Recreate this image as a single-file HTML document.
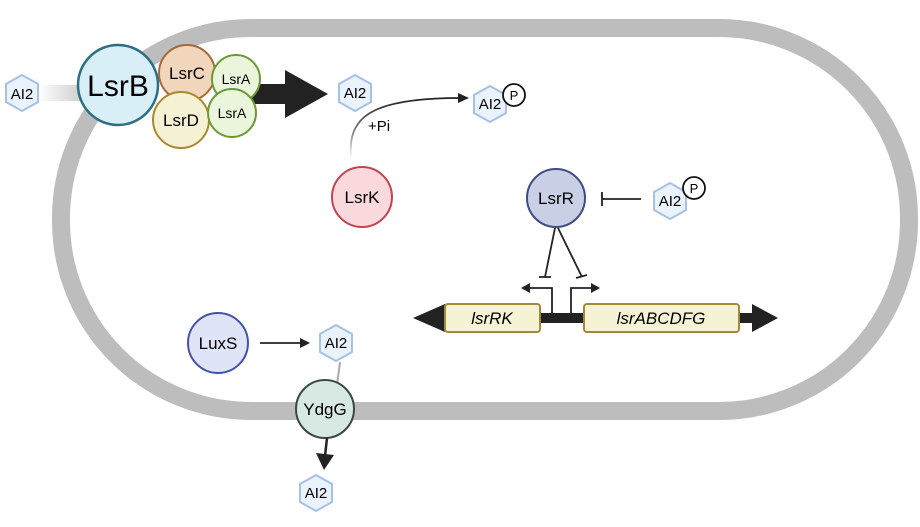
<!DOCTYPE html>
<html><head><meta charset="utf-8"><style>
html,body{margin:0;padding:0;background:#fff;}
svg{display:block;font-family:"Liberation Sans",sans-serif;}
</style></head><body>
<svg width="920" height="527" viewBox="0 0 920 527" xmlns="http://www.w3.org/2000/svg">
<defs>
<linearGradient id="g1" x1="0" x2="1"><stop offset="0" stop-color="#fff"/><stop offset="1" stop-color="#c8c8c8"/></linearGradient>
<linearGradient id="g2" x1="0" y1="1" x2="0" y2="0"><stop offset="0" stop-color="#fff"/><stop offset="0.4" stop-color="#888"/><stop offset="1" stop-color="#222"/></linearGradient>
<symbol id="hex" viewBox="-18 -19 36 38" overflow="visible"><polygon points="0,-18 16,-9 16,9 0,18 -16,9 -16,-9" fill="#eaf2fc" stroke="#a6c0e6" stroke-width="2"/></symbol>
</defs>
<rect x="61" y="28" width="848" height="383" rx="190" ry="190" fill="none" stroke="#bdbdbd" stroke-width="18"/>
<rect x="38" y="85" width="50" height="16" fill="url(#g1)"/>
<use href="#hex" x="4" y="74" width="36" height="38"/>
<text x="22" y="99" font-size="15" text-anchor="middle">AI2</text>
<rect x="235" y="84" width="55" height="20" fill="#222"/>
<polygon points="285,70 328,94 285,118" fill="#222"/>
<circle cx="118" cy="85" r="40" fill="#d9eff7" stroke="#2c6e82" stroke-width="2.5"/>
<text x="118" y="96" font-size="30" text-anchor="middle">LsrB</text>
<circle cx="187" cy="73" r="28" fill="#f2d6bc" stroke="#a6673a" stroke-width="2"/>
<text x="187" y="79" font-size="17" text-anchor="middle">LsrC</text>
<circle cx="181" cy="120" r="28" fill="#f5f1d4" stroke="#a8892c" stroke-width="2"/>
<text x="181" y="126" font-size="17" text-anchor="middle">LsrD</text>
<circle cx="236" cy="79" r="24" fill="#eaf5dc" stroke="#6a9a38" stroke-width="2"/>
<text x="236" y="84" font-size="14" text-anchor="middle">LsrA</text>
<circle cx="232" cy="113" r="24" fill="#eaf5dc" stroke="#6a9a38" stroke-width="2"/>
<text x="232" y="118" font-size="14" text-anchor="middle">LsrA</text>
<use href="#hex" x="337" y="74" width="36" height="38"/>
<text x="355" y="98" font-size="15" text-anchor="middle">AI2</text>
<path d="M351,158 C348,120 365,98 460,98" fill="none" stroke="url(#g2)" stroke-width="1.8"/>
<polygon points="458,93 469,98 458,103" fill="#222"/>
<text x="368" y="131" font-size="15">+Pi</text>
<use href="#hex" x="472" y="85" width="36" height="38"/>
<text x="490" y="109" font-size="15" text-anchor="middle">AI2</text>
<circle cx="514" cy="95" r="11" fill="#fff" stroke="#111" stroke-width="1.8"/>
<text x="514" y="100" font-size="13" text-anchor="middle">P</text>
<circle cx="362" cy="197" r="30" fill="#f9d9dc" stroke="#c24450" stroke-width="2"/>
<text x="362" y="203" font-size="17" text-anchor="middle">LsrK</text>
<circle cx="556" cy="198" r="29" fill="#c9d0e6" stroke="#3f4d84" stroke-width="2"/>
<text x="556" y="204" font-size="17" text-anchor="middle">LsrR</text>
<line x1="602" y1="199" x2="641" y2="199" stroke="#222" stroke-width="1.8"/>
<line x1="602" y1="192" x2="602" y2="206" stroke="#222" stroke-width="1.8"/>
<use href="#hex" x="652" y="182" width="36" height="38"/>
<text x="670" y="206" font-size="15" text-anchor="middle">AI2</text>
<circle cx="694" cy="188" r="11" fill="#fff" stroke="#111" stroke-width="1.8"/>
<text x="694" y="193" font-size="13" text-anchor="middle">P</text>
<line x1="555" y1="228" x2="545" y2="277" stroke="#222" stroke-width="1.8"/>
<line x1="539" y1="277" x2="551" y2="277" stroke="#222" stroke-width="1.8"/>
<line x1="558" y1="228" x2="582" y2="277" stroke="#222" stroke-width="1.8"/>
<line x1="576" y1="278" x2="587" y2="275" stroke="#222" stroke-width="1.8"/>
<polyline points="552,318 552,288 528,288" fill="none" stroke="#222" stroke-width="1.8"/>
<polygon points="530,283 521,288 530,293" fill="#222"/>
<polyline points="571,318 571,288 593,288" fill="none" stroke="#222" stroke-width="1.8"/>
<polygon points="591,283 600,288 591,293" fill="#222"/>
<rect x="430" y="313" width="330" height="10" fill="#222"/>
<polygon points="413,318 445,304 445,332" fill="#222"/>
<polygon points="778,318 752,304 752,332" fill="#222"/>
<rect x="445" y="304" width="95" height="28" rx="3" fill="#f6f3d4" stroke="#a08a3a" stroke-width="2"/>
<text x="492" y="324" font-size="17" font-style="italic" text-anchor="middle">lsrRK</text>
<rect x="584" y="304" width="155" height="28" rx="3" fill="#f6f3d4" stroke="#a08a3a" stroke-width="2"/>
<text x="661" y="324" font-size="17" font-style="italic" text-anchor="middle">lsrABCDFG</text>
<circle cx="218" cy="343" r="30" fill="#dfe4f8" stroke="#4453a6" stroke-width="2"/>
<text x="218" y="349" font-size="17" text-anchor="middle">LuxS</text>
<line x1="260" y1="343" x2="302" y2="343" stroke="#222" stroke-width="1.8"/>
<polygon points="300,338 310,343 300,348" fill="#222"/>
<line x1="340" y1="362" x2="337" y2="385" stroke="#aaa" stroke-width="2"/>
<use href="#hex" x="318" y="324" width="36" height="38"/>
<text x="336" y="348" font-size="15" text-anchor="middle">AI2</text>
<circle cx="325" cy="409" r="29" fill="#d8e8e2" stroke="#3a4843" stroke-width="2"/>
<text x="325" y="415" font-size="17" text-anchor="middle">YdgG</text>
<line x1="327" y1="438" x2="325" y2="456" stroke="#222" stroke-width="2.5"/>
<polygon points="316,453 334,455 324,470" fill="#222"/>
<use href="#hex" x="298" y="474" width="36" height="38"/>
<text x="316" y="498" font-size="15" text-anchor="middle">AI2</text>
</svg>
</body></html>
